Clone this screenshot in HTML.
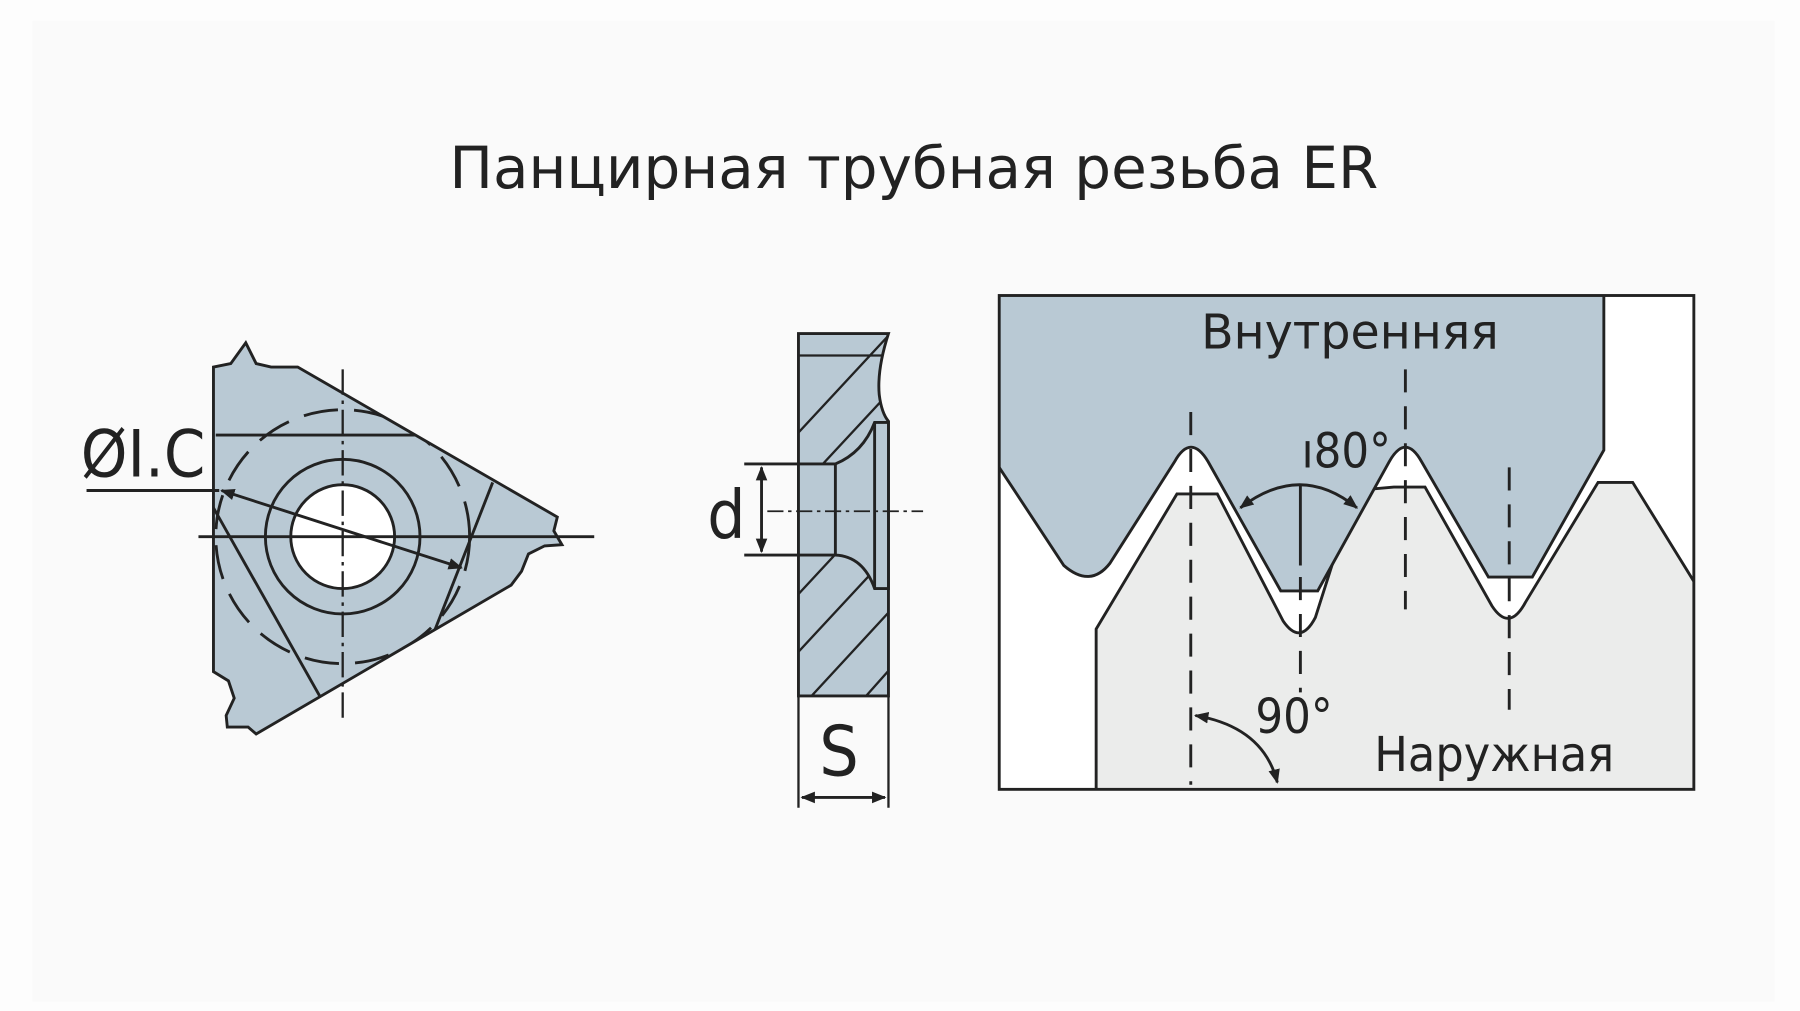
<!DOCTYPE html>
<html><head><meta charset="utf-8"><style>
html,body{margin:0;padding:0;background:#fdfdfd;}
svg{display:block}
text{font-family:"DejaVu Sans Condensed","DejaVu Sans","Liberation Sans",sans-serif;fill:#222;}
</style></head><body>
<svg width="1800" height="1011" viewBox="0 0 1560 876" xmlns="http://www.w3.org/2000/svg">
<defs>
<marker id="ah" viewBox="0 0 10 10" refX="9" refY="5" markerWidth="5" markerHeight="5" orient="auto-start-reverse"><path d="M0,1 L10,5 L0,9 z" fill="#222"/></marker>
<clipPath id="sideclip"><path d="M692,289 L770,289 Q760,320 762,342 Q764,358 770,365 L770,603 L692,603 Z"/></clipPath>
<clipPath id="insclip"><path id="ins" d="M185,318 L200,315 L213,297 L222,315 L235,318 L258,318 L483,448 L480,460 L487,472 L472,473 L458,480 L452,495 L443,507 L222,636 L215,630 L197,630 L196,620 L203,605 L198,590 L185,582 Z"/></clipPath>
<clipPath id="boxclip"><rect x="866" y="256" width="602" height="428"/></clipPath>
</defs>
<rect x="28" y="18" width="1510" height="850" fill="#fafafa"/>
<text x="792" y="163" font-size="50" text-anchor="middle" textLength="805" lengthAdjust="spacingAndGlyphs">Панцирная трубная резьба ER</text>

<!-- left insert -->
<g stroke="#222" stroke-width="2.5" fill="none">
<path d="M185,318 L200,315 L213,297 L222,315 L235,318 L258,318 L483,448 L480,460 L487,472 L472,473 L458,480 L452,495 L443,507 L222,636 L215,630 L197,630 L196,620 L203,605 L198,590 L185,582 Z" fill="#b9c9d4"/>
<g clip-path="url(#insclip)">
<line x1="187" y1="377" x2="400" y2="377"/>
<line x1="185" y1="440" x2="290" y2="626"/>
<line x1="427" y1="418" x2="340" y2="640"/>
<circle cx="297" cy="465" r="110" stroke-dasharray="30,14"/>
</g>
<circle cx="297" cy="465" r="67"/>
<circle cx="297" cy="465" r="45" fill="#fff"/>
<line x1="297" y1="320" x2="297" y2="625" stroke-width="2" stroke-dasharray="22,5,3,5"/>
<line x1="172" y1="465" x2="515" y2="465" stroke-width="2.5"/>
<line x1="75" y1="425" x2="190" y2="425"/>
<line x1="192" y1="425" x2="400" y2="492" marker-start="url(#ah)" marker-end="url(#ah)"/>
</g>
<text x="70" y="413" font-size="56" textLength="108" lengthAdjust="spacingAndGlyphs">ØI.C</text>

<!-- side view -->
<g stroke="#222" stroke-width="2.5">
<path d="M692,289 L770,289 Q760,320 762,342 Q764,358 770,365 L770,603 L692,603 Z" fill="#b9c9d4"/>
<g clip-path="url(#sideclip)" stroke-width="2">
<line x1="692" y1="308" x2="770" y2="308"/>
<path d="M650,420 L780,280 M650,470 L780,330 M640,530 L780,380 M650,560 L780,420 M650,610 L780,470 M660,650 L780,520 M700,660 L780,570" fill="none"/>
</g>
<path d="M692,402 L724,402 L724,481 L692,481 Z" fill="#b9c9d4" stroke="none"/>
<path d="M692,402 L724,402 Q748,392 758,366 L770,366 L770,510 L758,510 Q748,482 724,481 L692,481 Z" fill="#b9c9d4"/>
<line x1="724" y1="402" x2="724" y2="481"/>
<line x1="758" y1="366" x2="758" y2="510"/>
<line x1="645" y1="402" x2="692" y2="402"/>
<line x1="645" y1="481" x2="692" y2="481"/>
<line x1="660" y1="405" x2="660" y2="478" marker-start="url(#ah)" marker-end="url(#ah)"/>
<line x1="665" y1="443" x2="800" y2="443" stroke-width="1.5" stroke-dasharray="14,4,3,4"/>
<line x1="692" y1="603" x2="692" y2="700" stroke-width="2"/>
<line x1="770" y1="603" x2="770" y2="700" stroke-width="2"/>
<line x1="695" y1="691" x2="767" y2="691" marker-start="url(#ah)" marker-end="url(#ah)"/>
</g>
<text x="613" y="466" font-size="58">d</text>
<text x="710" y="672" font-size="60">S</text>

<!-- thread box -->
<rect x="866" y="256" width="602" height="428" fill="#fff"/>
<g clip-path="url(#boxclip)" stroke="#222" stroke-width="2.5">
<path d="M950,690 L950,545 L1020,428 L1055,428 L1112,538 Q1127,560 1140,535 L1175,425 L1208,422 L1235,422 L1293,525 Q1308,548 1322,522 L1385,418 L1415,418 L1470,507 L1470,690 Z" fill="#ebeceb"/>
<path d="M860,250 L1390,250 L1390,390 L1328,500 L1290,500 L1232,400 Q1218,375 1204,400 L1142,512 L1110,512 L1047,400 Q1032,375 1018,400 L962,488 Q945,510 922,490 L866,405 L860,400 Z" fill="#b9c9d4"/>
</g>
<rect x="866" y="256" width="602" height="428" fill="none" stroke="#222" stroke-width="2.5"/>
<g stroke="#222" stroke-width="2.5" fill="none">
<line x1="1032" y1="357" x2="1032" y2="680" stroke-dasharray="20,12"/>
<line x1="1218" y1="320" x2="1218" y2="528" stroke-dasharray="20,12"/>
<line x1="1308" y1="405" x2="1308" y2="615" stroke-dasharray="20,12"/>
<line x1="1127" y1="420" x2="1127" y2="490"/>
<line x1="1127" y1="500" x2="1127" y2="600" stroke-dasharray="20,12"/>
<path d="M1075,440 Q1127,400 1176,440" marker-start="url(#ah)" marker-end="url(#ah)"/>
<path d="M1036,620 Q1095,630 1107,678" marker-start="url(#ah)" marker-end="url(#ah)"/>
</g>
<text x="1170" y="302" font-size="42" text-anchor="middle" textLength="258" lengthAdjust="spacingAndGlyphs">Внутренняя</text>
<text x="1128" y="405" font-size="42">ı80°</text>
<text x="1088" y="635" font-size="42">90°</text>
<text x="1295" y="668" font-size="42" text-anchor="middle" textLength="208" lengthAdjust="spacingAndGlyphs">Наружная</text>
</svg>
</body></html>
